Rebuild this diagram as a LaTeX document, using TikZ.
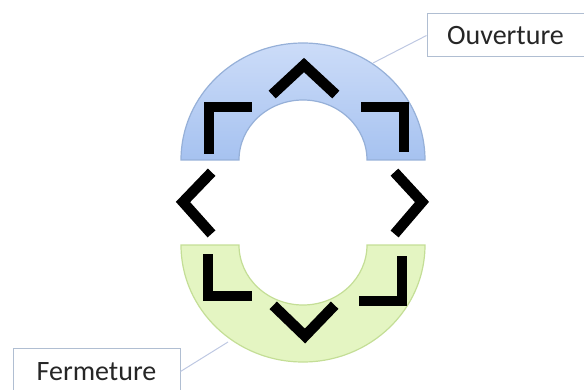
\documentclass[tikz,border=0pt]{standalone}
\usepackage{fontspec}
\setmainfont{Carlito}
\usetikzlibrary{positioning}

\definecolor{openfill}{RGB}{204, 220, 248}
\definecolor{openfilldark}{RGB}{166, 194, 240}
\definecolor{opendraw}{RGB}{150, 176, 216}
\definecolor{closefill}{RGB}{228, 245, 194}
\definecolor{closedraw}{RGB}{196, 222, 150}
\definecolor{boxdraw}{RGB}{176, 190, 210}
\definecolor{leadline}{RGB}{190, 200, 226}

\begin{document}
\begin{tikzpicture}[
    x=1pt, y=1pt,
    font=\fontsize{28}{32}\selectfont,
    % --- Style Definitions ---
    halfring/.style={
        draw=#1, line width=1.2pt
    },
    glyph/.style={
        line width=10.5pt, black, line cap=rect, line join=miter
    },
    labelbox/.style={
        rectangle, draw=boxdraw, line width=1pt, fill=white,
        text=black!85, inner sep=0pt
    },
    leader/.style={
        draw=leadline, line width=1pt
    }
]
\useasboundingbox (0,0) rectangle (584,389);

% ================= Half rings =================
\path[halfring=opendraw, top color=openfill, bottom color=openfilldark]
    (181,229) arc[start angle=180, end angle=0, x radius=122, y radius=117]
    -- (367,229) arc[start angle=0, end angle=180, x radius=64, y radius=60]
    -- cycle;
\path[halfring=closedraw, fill=closefill]
    (181,144) arc[start angle=180, end angle=360, x radius=122, y radius=117]
    -- (367,144) arc[start angle=360, end angle=180, x radius=64, y radius=60]
    -- cycle;

% ================= Glyphs =================
\draw[glyph] (209,240) -- (209,282) -- (247,282);
\draw[glyph] (276,298) -- (304,324) -- (332,298);
\draw[glyph] (366,282) -- (404,282) -- (404,242);
\draw[glyph] (208,213) -- (183,187) -- (208,159);
\draw[glyph] (398,213) -- (422,187) -- (398,159);
\draw[glyph] (208,130) -- (208,93) -- (247,93);
\draw[glyph] (402,128) -- (402,88) -- (364,88);
\draw[glyph] (277,80) -- (305,53) -- (331,80);

% ================= Labels =================
\node[labelbox, minimum width=157pt, minimum height=43pt] (ouv) at (505.5,353.5) {Ouverture};
\node[labelbox, minimum width=167pt, minimum height=47pt] (fer) at (96.5,17.5) {Fermeture};

\coordinate (ouvtip) at (373,326);
\coordinate (fertip) at (228,47);

% ================= Connection Logic =================
\draw[leader] (ouv.west) -- (ouvtip);
\draw[leader] (fer.east) -- (fertip);

\end{tikzpicture}
\end{document}
